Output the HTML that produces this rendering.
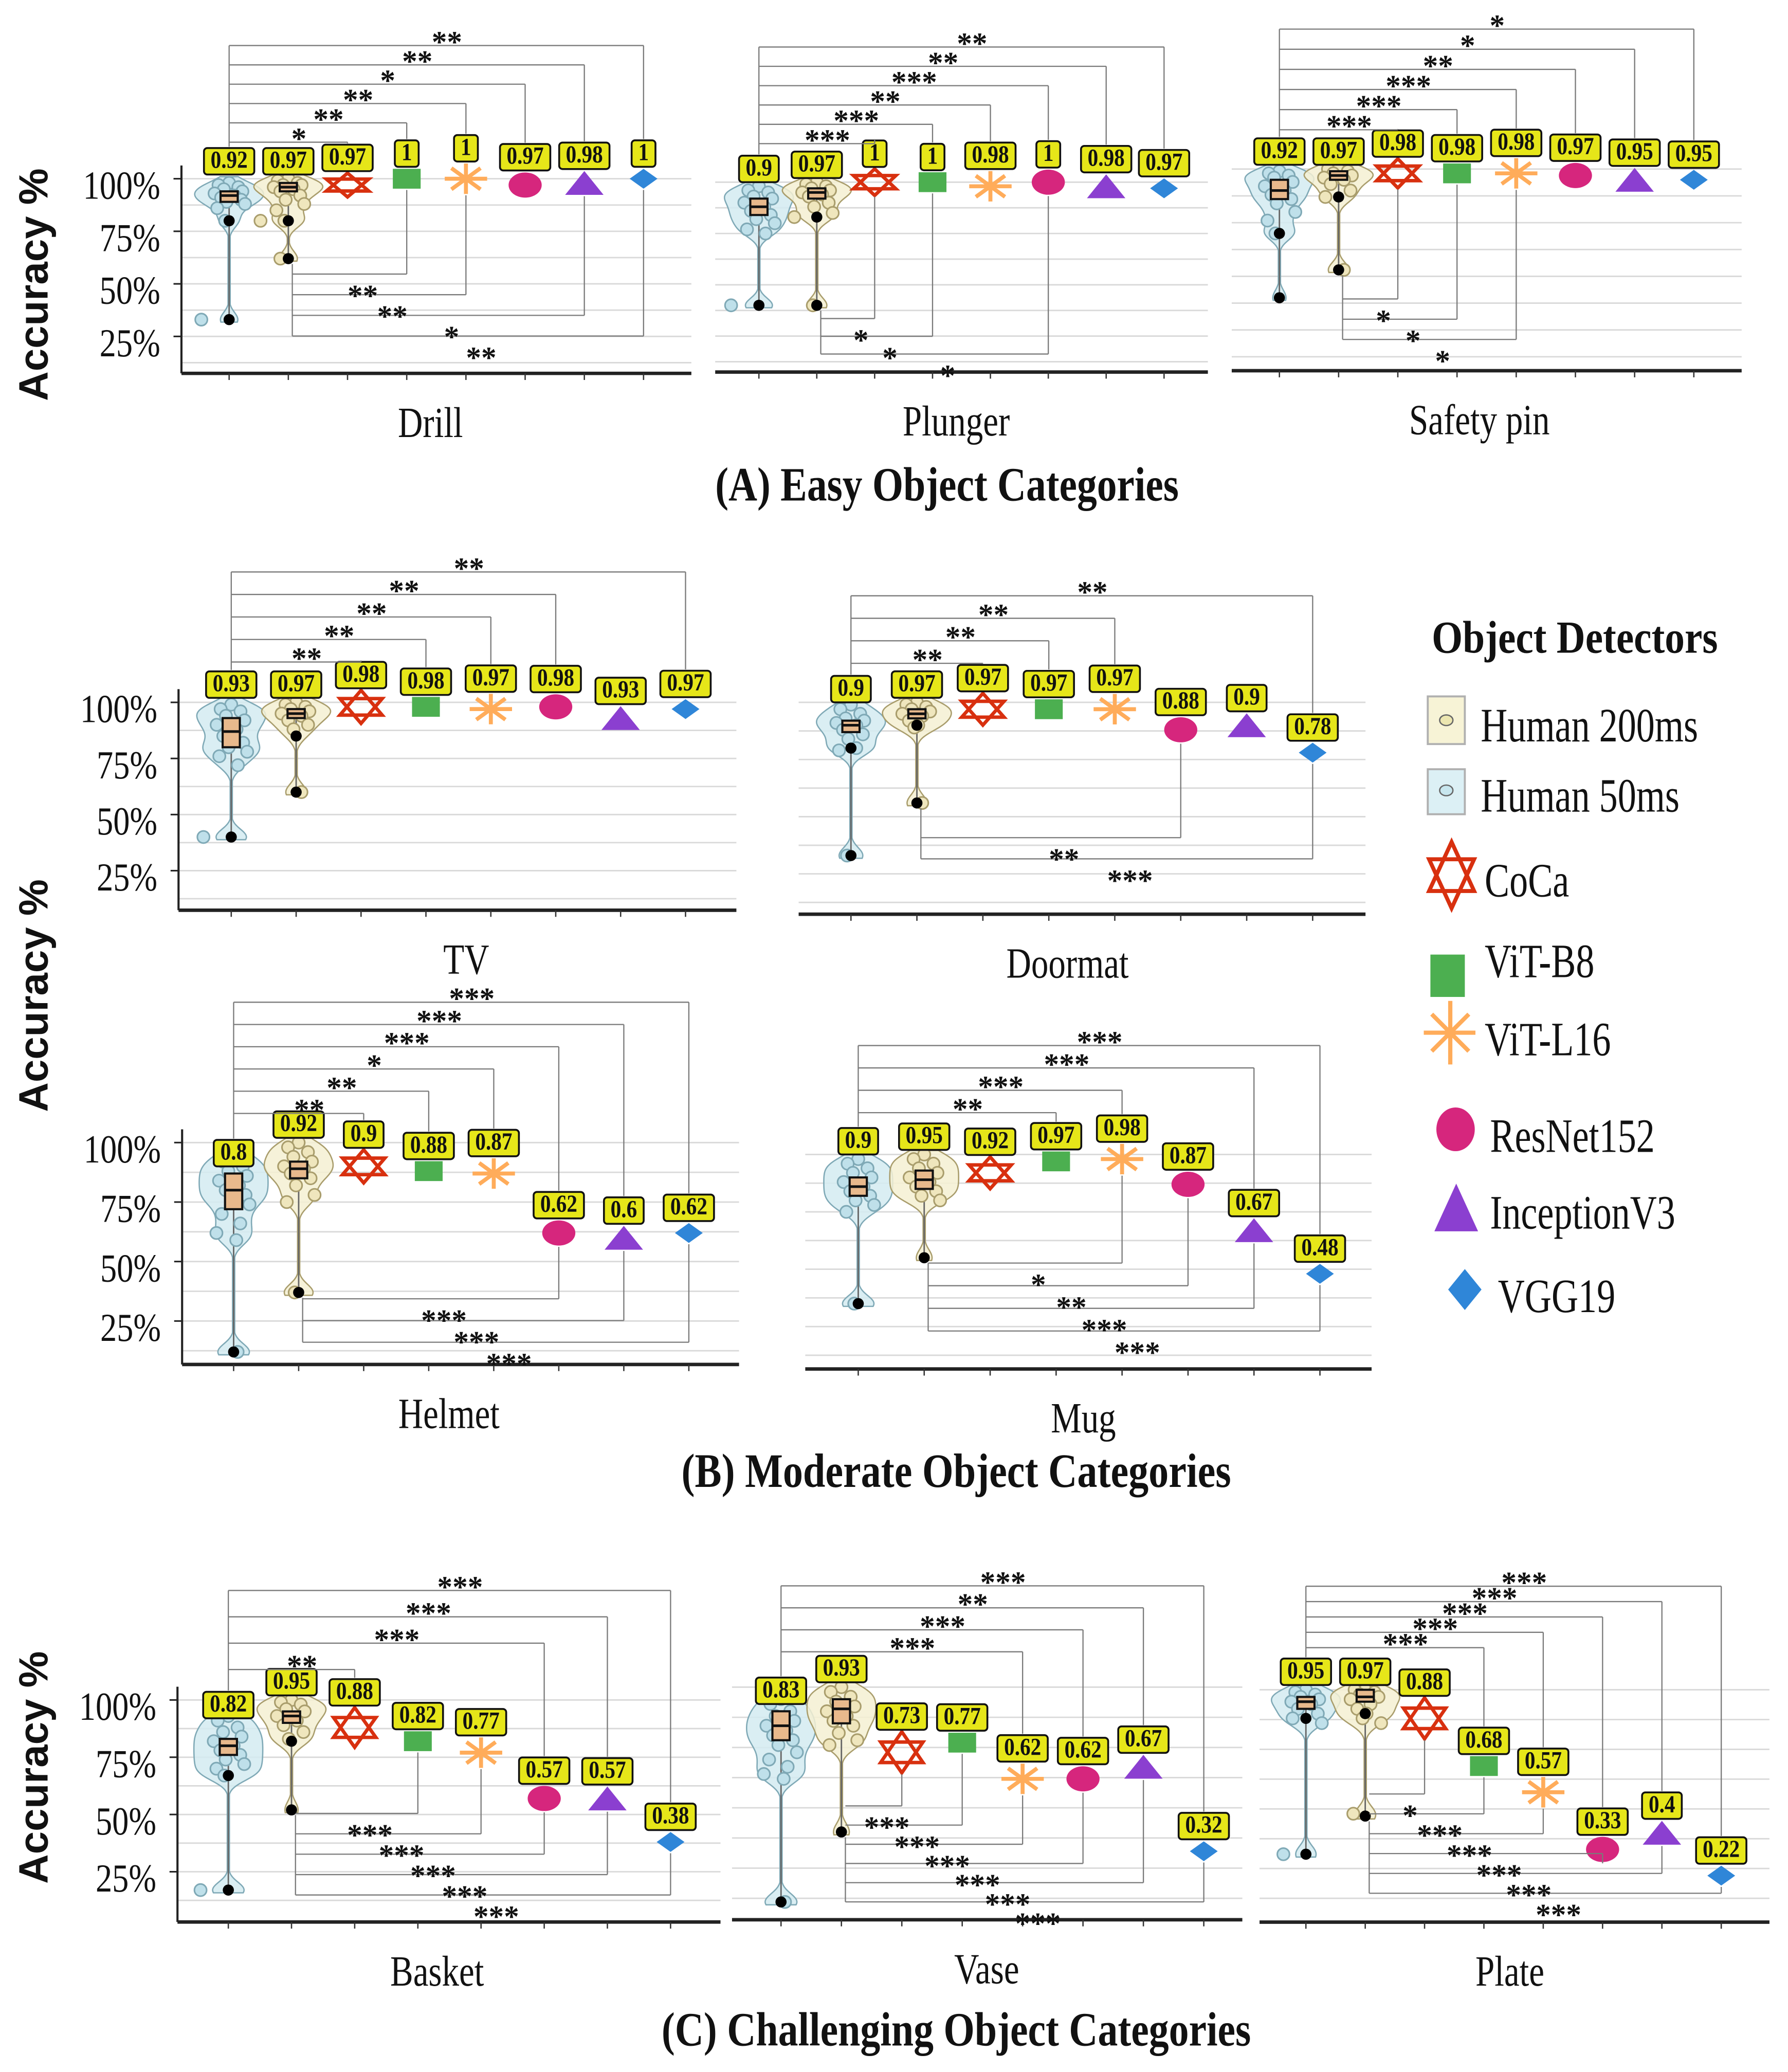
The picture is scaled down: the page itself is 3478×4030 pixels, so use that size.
<!DOCTYPE html>
<html><head><meta charset="utf-8"><title>Object detectors accuracy</title>
<style>html,body{margin:0;padding:0;background:#fff;}svg{display:block;}</style></head>
<body>
<svg id="chart" xmlns="http://www.w3.org/2000/svg" width="3478" height="4030" viewBox="0 0 1350 1565" preserveAspectRatio="none"></svg>
<script>
// ---------- data ----------
const categories = ['Human 50ms','Human 200ms','CoCa','ViT-B8','ViT-L16','ResNet152','InceptionV3','VGG19'];
const tickLabels = ['100%','75%','50%','25%'];
const tickValues = [1,0.75,0.5,0.25];
const legendLabels = ['Human 200ms','Human 50ms','CoCa','ViT-B8','ViT-L16','ResNet152','InceptionV3','VGG19'];

const drillMeans = [0.92,0.97,0.97,1,1,0.97,0.98,1];
const drillBox50 = [0.89,0.92,0.94];
const drillBox200 = [0.94,0.96,0.98];
const drillPts50 = [0.98,0.97,0.96,0.95,0.94,0.93,0.92,0.91,0.90,0.89,0.88,0.86,0.80,0.33];
const drillPts200 = [1,0.99,0.98,0.97,0.97,0.96,0.95,0.94,0.92,0.90,0.88,0.85,0.80,0.80,0.62];
const drillOut50 = [0.80,0.33];
const drillOut200 = [0.80,0.62];
const drillSigTop = [[2,'*'],[3,'**'],[4,'**'],[5,'*'],[6,'**'],[7,'**']];
const drillSigBot = [[3,'**'],[4,'**'],[6,'*'],[7,'**']];

const plungerMeans = [0.9,0.97,1,1,0.98,1,0.98,0.97];
const plungerBox50 = [0.84,0.88,0.92];
const plungerBox200 = [0.92,0.95,0.97];
const plungerPts50 = [0.98,0.96,0.95,0.93,0.92,0.90,0.88,0.86,0.84,0.82,0.80,0.77,0.75,0.40];
const plungerPts200 = [1,0.99,0.98,0.97,0.96,0.95,0.94,0.93,0.90,0.88,0.85,0.83,0.40];
const plungerOut50 = [0.40];
const plungerOut200 = [0.83,0.40];
const plungerSigTop = [[2,'***'],[3,'***'],[4,'**'],[5,'***'],[6,'**'],[7,'**']];
const plungerSigBot = [[2,'*'],[3,'*'],[5,'*']];

const safetyMeans = [0.92,0.97,0.98,0.98,0.98,0.97,0.95,0.95];
const safetyBox50 = [0.86,0.90,0.95];
const safetyBox200 = [0.95,0.97,0.99];
const safetyPts50 = [0.99,0.98,0.97,0.96,0.94,0.92,0.90,0.88,0.86,0.84,0.80,0.76,0.70];
const safetyPts200 = [1,1,0.99,0.98,0.97,0.96,0.95,0.93,0.90,0.87,0.53];
const safetyOut50 = [0.70,0.40];
const safetyOut200 = [0.87,0.53];
const safetySigTop = [[2,'***'],[3,'***'],[4,'***'],[5,'**'],[6,'*'],[7,'*']];
const safetySigBot = [[2,'*'],[3,'*'],[4,'*']];

const tvMeans = [0.93,0.97,0.98,0.98,0.97,0.98,0.93,0.97];
const tvBox50 = [0.80,0.87,0.93];
const tvBox200 = [0.93,0.95,0.97];
const tvPts50 = [0.99,0.97,0.96,0.94,0.92,0.90,0.88,0.85,0.82,0.80,0.78,0.76,0.72,0.40];
const tvPts200 = [1,0.99,0.98,0.97,0.96,0.95,0.94,0.92,0.90,0.88,0.60];
const tvOut50 = [0.40];
const tvOut200 = [0.85,0.60];
const tvSigTop = [[2,'**'],[3,'**'],[4,'**'],[5,'**'],[7,'**']];
const tvSigBot = [];

const doormatMeans = [0.9,0.97,0.97,0.97,0.97,0.88,0.9,0.78];
const doormatBox50 = [0.87,0.90,0.92];
const doormatBox200 = [0.93,0.95,0.97];
const doormatPts50 = [0.99,0.97,0.95,0.93,0.92,0.91,0.90,0.88,0.86,0.84,0.80,0.79,0.33];
const doormatPts200 = [1,0.99,0.98,0.97,0.96,0.95,0.94,0.92,0.90,0.89,0.56];
const doormatOut50 = [0.80,0.33];
const doormatOut200 = [0.90,0.56];
const doormatSigTop = [[2,'**'],[3,'**'],[4,'**'],[7,'**']];
const doormatSigBot = [[5,'**'],[7,'***']];

const helmetMeans = [0.8,0.92,0.9,0.88,0.87,0.62,0.6,0.62];
const helmetBox50 = [0.72,0.80,0.87];
const helmetBox200 = [0.85,0.89,0.92];
const helmetPts50 = [0.95,0.92,0.90,0.88,0.86,0.84,0.82,0.80,0.78,0.76,0.74,0.70,0.66,0.62,0.59,0.12];
const helmetPts200 = [1,0.98,0.96,0.94,0.92,0.90,0.89,0.87,0.85,0.82,0.78,0.75,0.37];
const helmetOut50 = [0.12];
const helmetOut200 = [0.37];
const helmetSigTop = [[2,'**'],[3,'**'],[4,'*'],[5,'***'],[6,'***'],[7,'***']];
const helmetSigBot = [[5,'***'],[6,'***'],[7,'***']];

const mugMeans = [0.9,0.95,0.92,0.97,0.98,0.87,0.67,0.48];
const mugBox50 = [0.82,0.86,0.90];
const mugBox200 = [0.85,0.89,0.93];
const mugPts50 = [0.98,0.96,0.94,0.92,0.90,0.88,0.86,0.84,0.82,0.80,0.78,0.75,0.35];
const mugPts200 = [1,0.98,0.96,0.94,0.92,0.90,0.88,0.86,0.84,0.82,0.80];
const mugOut50 = [0.35];
const mugOut200 = [0.55];
const mugSigTop = [[3,'**'],[4,'***'],[6,'***'],[7,'***']];
const mugSigBot = [[4,'*'],[5,'**'],[6,'***'],[7,'***']];

const basketMeans = [0.82,0.95,0.88,0.82,0.77,0.57,0.57,0.38];
const basketBox50 = [0.76,0.80,0.83];
const basketBox200 = [0.90,0.93,0.95];
const basketPts50 = [0.93,0.91,0.88,0.86,0.84,0.82,0.80,0.78,0.76,0.74,0.72,0.70,0.67,0.17];
const basketPts200 = [1,0.99,0.98,0.96,0.95,0.93,0.91,0.89,0.86,0.83];
const basketOut50 = [0.67,0.17];
const basketOut200 = [0.82,0.52];
const basketSigTop = [[2,'**'],[5,'***'],[6,'***'],[7,'***']];
const basketSigBot = [[3,'***'],[4,'***'],[5,'***'],[6,'***'],[7,'***']];

const vaseMeans = [0.83,0.93,0.73,0.77,0.62,0.62,0.67,0.32];
const vaseBox50 = [0.78,0.84,0.90];
const vaseBox200 = [0.85,0.91,0.95];
const vasePts50 = [0.95,0.93,0.90,0.88,0.86,0.84,0.82,0.80,0.78,0.76,0.73,0.70,0.67,0.64,0.62,0.11];
const vasePts200 = [1,0.98,0.96,0.94,0.92,0.90,0.88,0.86,0.84,0.81,0.78,0.76];
const vaseOut50 = [0.11];
const vaseOut200 = [0.40];
const vaseSigTop = [[4,'***'],[5,'***'],[6,'**'],[7,'***']];
const vaseSigBot = [[2,'***'],[3,'***'],[4,'***'],[5,'***'],[6,'***'],[7,'***']];

const plateMeans = [0.95,0.97,0.88,0.68,0.57,0.33,0.4,0.22];
const plateBox50 = [0.92,0.95,0.97];
const plateBox200 = [0.95,0.97,1.0];
const platePts50 = [1,0.99,0.98,0.97,0.96,0.95,0.94,0.92,0.90,0.88,0.86,0.31];
const platePts200 = [1,1,0.99,0.98,0.97,0.96,0.94,0.92,0.90,0.88,0.86,0.48];
const plateOut50 = [0.88,0.31];
const plateOut200 = [0.90,0.47];
const plateSigTop = [[3,'***'],[4,'***'],[5,'***'],[6,'***'],[7,'***']];
const plateSigBot = [[2,'*'],[3,'***'],[4,'***'],[5,'***'],[6,'***'],[7,'***']];

// ---------- layout (pixels, not data) ----------
const panels = [
 {key:'drill',title:'Drill',labelX:325,yAxis:true,x0:173,dx:44.7,y100:135,per100:158.8,L:137,R:522,B:282,tb:107.4,ts:14.6,bb:207,bs:15.6,starH:18,
  means:drillMeans,box50:drillBox50,box200:drillBox200,pts50:drillPts50,pts200:drillPts200,out50:drillOut50,out200:drillOut200,top:drillSigTop,bot:drillSigBot},
 {key:'plunger',title:'Plunger',labelX:722,yAxis:false,x0:573,dx:43.7,y100:137.6,per100:155,L:540,R:912,B:281,tb:108.5,ts:14.6,bb:240.6,bs:13.4,starH:20,
  means:plungerMeans,box50:plungerBox50,box200:plungerBox200,pts50:plungerPts50,pts200:plungerPts200,out50:plungerOut50,out200:plungerOut200,top:plungerSigTop,bot:plungerSigBot},
 {key:'safety-pin',title:'Safety pin',labelX:1117,yAxis:false,x0:966,dx:44.7,y100:127.7,per100:162,L:930,R:1315,B:280,tb:98,ts:15.2,bb:225.8,bs:15.3,starH:22,
  means:safetyMeans,box50:safetyBox50,box200:safetyBox200,pts50:safetyPts50,pts200:safetyPts200,out50:safetyOut50,out200:safetyOut200,top:safetySigTop,bot:safetySigBot},
 {key:'tv',title:'TV',labelX:352,yAxis:true,x0:174.6,dx:49,y100:530.5,per100:169.5,L:134.8,R:556,B:687.5,tb:500,ts:17,bb:0,bs:0,starH:25,
  means:tvMeans,box50:tvBox50,box200:tvBox200,pts50:tvPts50,pts200:tvPts200,out50:tvOut50,out200:tvOut200,top:tvSigTop,bot:tvSigBot},
 {key:'doormat',title:'Doormat',labelX:806,yAxis:false,x0:642.5,dx:49.8,y100:530.5,per100:172.7,L:603,R:1031,B:690.5,tb:501,ts:17,bb:632.7,bs:16,starH:24,
  means:doormatMeans,box50:doormatBox50,box200:doormatBox200,pts50:doormatPts50,pts200:doormatPts200,out50:doormatOut50,out200:doormatOut200,top:doormatSigTop,bot:doormatSigBot},
 {key:'helmet',title:'Helmet',labelX:339,yAxis:true,x0:176.4,dx:49.1,y100:863,per100:179.7,L:137.5,R:558,B:1030.6,tb:841,ts:16.8,bb:981,bs:16.4,starH:25,
  means:helmetMeans,box50:helmetBox50,box200:helmetBox200,pts50:helmetPts50,pts200:helmetPts200,out50:helmetOut50,out200:helmetOut200,top:helmetSigTop,bot:helmetSigBot},
 {key:'mug',title:'Mug',labelX:818,yAxis:false,x0:648,dx:49.8,y100:872,per100:173.3,L:608,R:1035.6,B:1034,tb:840.4,ts:16.9,bb:954,bs:17.1,starH:24,
  means:mugMeans,box50:mugBox50,box200:mugBox200,pts50:mugPts50,pts200:mugPts200,out50:mugOut50,out200:mugOut200,top:mugSigTop,bot:mugSigBot},
 {key:'basket',title:'Basket',labelX:330,yAxis:true,x0:172.4,dx:47.7,y100:1284,per100:173,L:134,R:544,B:1451.7,tb:1261,ts:19.9,bb:1369.7,bs:15.4,starH:30,
  means:basketMeans,box50:basketBox50,box200:basketBox200,pts50:basketPts50,pts200:basketPts200,out50:basketOut50,out200:basketOut200,top:basketSigTop,bot:basketSigBot},
 {key:'vase',title:'Vase',labelX:745,yAxis:false,x0:589.7,dx:45.6,y100:1274.3,per100:182.3,L:552.7,R:938,B:1450,tb:1247.6,ts:16.6,bb:1364,bs:14.5,starH:31,
  means:vaseMeans,box50:vaseBox50,box200:vaseBox200,pts50:vasePts50,pts200:vasePts200,out50:vaseOut50,out200:vaseOut200,top:vaseSigTop,bot:vaseSigBot},
 {key:'plate',title:'Plate',labelX:1140,yAxis:false,x0:986,dx:44.8,y100:1276.3,per100:180,L:951,R:1336,B:1451.8,tb:1244.5,ts:11.6,bb:1355,bs:15,starH:31,
  means:plateMeans,box50:plateBox50,box200:plateBox200,pts50:platePts50,pts200:platePts200,out50:plateOut50,out200:plateOut200,top:plateSigTop,bot:plateSigBot}
];
const jitter = [0,-8,7,-4,10,-11,4,-6,9,-2,12,-9,5,-13,2,11,-5];
const colors = {coca:'#d8300f',b8:'#4caf50',l16:'#ffac5a',res:'#d6267d',inc:'#8b3fd0',vgg:'#2f86d8'};
const SERIF = '"Liberation Serif", "Times New Roman", serif';
const SANS = '"Liberation Sans", Arial, sans-serif';

const NS = 'http://www.w3.org/2000/svg';
const svg = document.getElementById('chart');
function mk(tag, attrs, parent){
  const e = document.createElementNS(NS, tag);
  for (const k in attrs) e.setAttribute(k, attrs[k]);
  (parent || svg).appendChild(e);
  return e;
}
function txt(parent, str, x, y, o){
  const t = mk('text', {x:0, y:0, transform:'translate('+x+','+y+') scale(1,'+(o.sy||1)+')'+(o.rot?' rotate('+o.rot+')':''),
    'font-family':o.font||SERIF, 'font-size':o.size, 'font-weight':o.bold?'bold':'normal',
    'text-anchor':o.anchor||'start', fill:o.fill||'#111'}, parent);
  if (o.len){ t.setAttribute('textLength', o.len); t.setAttribute('lengthAdjust','spacingAndGlyphs'); }
  t.textContent = str;
  return t;
}

function markerHalf(m, p){ return [0,0,p.starH/2,7.5,11.5,9.5,9,7.5][m]; }

function drawMarker(parent, m, cx, cy, p){
  let e;
  if (m === 2){
    const w = 16, h = p.starH/2;
    e = mk('g', {}, parent);
    mk('polygon', {points:`${cx},${cy-h} ${cx+w},${cy+h/2} ${cx-w},${cy+h/2}`, fill:'none', stroke:colors.coca, 'stroke-width':2.6, 'stroke-linejoin':'miter'}, e);
    mk('polygon', {points:`${cx},${cy+h} ${cx+w},${cy-h/2} ${cx-w},${cy-h/2}`, fill:'none', stroke:colors.coca, 'stroke-width':2.6, 'stroke-linejoin':'miter'}, e);
  } else if (m === 3){
    e = mk('rect', {x:cx-10.5, y:cy-7.5, width:21, height:15, fill:colors.b8}, parent);
  } else if (m === 4){
    e = mk('g', {stroke:colors.l16, 'stroke-width':3, 'stroke-linecap':'butt'}, parent);
    mk('line', {x1:cx-16, y1:cy, x2:cx+16, y2:cy}, e);
    mk('line', {x1:cx, y1:cy-11.5, x2:cx, y2:cy+11.5}, e);
    mk('line', {x1:cx-11, y1:cy-8, x2:cx+11, y2:cy+8}, e);
    mk('line', {x1:cx-11, y1:cy+8, x2:cx+11, y2:cy-8}, e);
  } else if (m === 5){
    e = mk('ellipse', {cx:cx, cy:cy, rx:12.5, ry:9.5, fill:colors.res}, parent);
  } else if (m === 6){
    e = mk('polygon', {points:`${cx},${cy-9} ${cx+14.5},${cy+9} ${cx-14.5},${cy+9}`, fill:colors.inc}, parent);
  } else {
    e = mk('polygon', {points:`${cx},${cy-7.5} ${cx+10.5},${cy} ${cx},${cy+7.5} ${cx-10.5},${cy}`, fill:colors.vgg}, parent);
  }
  return e;
}

function drawLabel(parent, val, cx, bottom){
  const s = String(val);
  let w = 0;
  for (const ch of s) w += (ch === '.' ? 0.25 : 0.5) * 16;
  const g = mk('g', {}, parent);
  
  
  mk('rect', {x:cx-w/2-5, y:bottom-20, width:w+10, height:20, rx:2.5, fill:'#e6e619', stroke:'#111', 'stroke-width':1.4}, g);
  txt(g, s, cx, bottom-5, {size:16, bold:true, anchor:'middle', sy:1.15});
  return bottom - 20;
}

function drawPanel(p){
  const g = mk('g', {});
  
  
  const X = i => p.x0 + i * p.dx;
  const Y = v => p.y100 + (1 - v) * p.per100;

  for (let k = 0; k < 8; k++){
    const gl = mk('line', {x1:p.L, x2:p.R, y1:Y(1-k*0.125), y2:Y(1-k*0.125), stroke:'#d9d9d9', 'stroke-width':1.1}, g);
    
    
  }
  if (p.yAxis){
    const ya = mk('line', {x1:p.L, x2:p.L, y1:Y(1)-10, y2:p.B, stroke:'#222', 'stroke-width':1.6}, g);
    
    
    tickValues.forEach((v, i) => {
      mk('line', {x1:p.L-6, x2:p.L, y1:Y(v), y2:Y(v), stroke:'#222', 'stroke-width':1.2}, g);
      const tl = txt(g, tickLabels[i], p.L-16, Y(v)+15, {size:25, anchor:'end', sy:1.2});
      
      
    });
  }
  const xa = mk('line', {x1:p.L, x2:p.R, y1:p.B, y2:p.B, stroke:'#222', 'stroke-width':2.6}, g);
  
  
  for (let i = 0; i < categories.length; i++){
    mk('line', {x1:X(i), x2:X(i), y1:p.B, y2:p.B+5, stroke:'#333', 'stroke-width':1}, g);
  }
  const cl = txt(g, p.title, p.labelX, p.B+48, {size:26, anchor:'middle', sy:1.25});
  
  

  const tops = [];
  const groups = [
    {i:0, pts:p.pts50, box:p.box50, outs:p.out50, fill:'#d3ebf1', stroke:'#7fa9b6', dot:'#bfe0ea'},
    {i:1, pts:p.pts200, box:p.box200, outs:p.out200, fill:'#f5f0d2', stroke:'#a99d6c', dot:'#efe6bd'}
  ];
  groups.forEach(hg => {
    const hgEl = mk('g', {}, g);
    
    
    const cx = X(hg.i);
    const all = hg.pts.concat(hg.outs);
    const vmin = Math.min(...all) - 0.012, vmax = Math.min(1.02, Math.max(...all) + 0.03);
    const bw = 0.035, dens = [];
    for (let v = vmin; v <= vmax + 1e-9; v += 0.004){
      let d = 0;
      all.forEach(q => { d += Math.exp(-0.5 * Math.pow((v - q) / bw, 2)); });
      dens.push([v, d]);
    }
    const dmax = Math.max(...dens.map(d => d[1]));
    const W = 26;
    let path = '';
    dens.forEach((d, k) => { path += (k ? 'L' : 'M') + (cx + Math.max(0.8, d[1]/dmax*W)).toFixed(2) + ',' + Y(d[0]).toFixed(2); });
    for (let k = dens.length - 1; k >= 0; k--){ path += 'L' + (cx - Math.max(0.8, dens[k][1]/dmax*W)).toFixed(2) + ',' + Y(dens[k][0]).toFixed(2); }
    mk('path', {d:path + 'Z', fill:hg.fill, 'fill-opacity':0.85, stroke:hg.stroke, 'stroke-width':1}, hgEl);
    const lo = Math.min(...all);
    mk('line', {x1:cx, x2:cx, y1:Y(hg.box[0]), y2:Y(lo), stroke:'#666', 'stroke-width':1.1}, hgEl);
    hg.pts.forEach((v, k) => {
      const dot = mk('circle', {cx:cx + jitter[k % jitter.length] - (hg.outs.includes(v) ? 8 : 0), cy:Y(v), r:4.6, fill:hg.dot, stroke:hg.stroke, 'stroke-width':1.2}, hgEl);
      
      
    });
    const bx = mk('rect', {x:cx-6.5, y:Y(hg.box[2]), width:13, height:Math.max(3, Y(hg.box[0])-Y(hg.box[2])), fill:'#e8b98c', stroke:'#111', 'stroke-width':1.6}, hgEl);
    
    
    mk('line', {x1:cx-6.5, x2:cx+6.5, y1:Y(hg.box[1]), y2:Y(hg.box[1]), stroke:'#111', 'stroke-width':2}, hgEl);
    hg.outs.forEach(v => {
      const o = mk('circle', {cx:cx, cy:Y(v), r:4.2, fill:'#000'}, hgEl);
      
      
    });
    tops[hg.i] = drawLabel(hgEl, p.means[hg.i], cx, Y(Math.min(1.02, p.means[hg.i] + 0.1)));
  });
  for (let m = 2; m < 8; m++){
    const me = drawMarker(g, m, X(m), Y(p.means[m]), p);
    
    
    tops[m] = drawLabel(g, p.means[m], X(m), Y(p.means[m]) - markerHalf(m, p) - 1.5);
  }
  if (p.top.length){
    const bg = mk('g', {stroke:'#7a7a7a', 'stroke-width':0.9, fill:'none'}, g);
    
    
    const highest = p.tb - (p.top.length - 1) * p.ts;
    mk('line', {x1:X(0), x2:X(0), y1:highest, y2:tops[0]-1}, bg);
    p.top.forEach((s, k) => {
      const ly = p.tb - k * p.ts;
      mk('line', {x1:X(0), x2:X(s[0]), y1:ly, y2:ly}, bg);
      mk('line', {x1:X(s[0]), x2:X(s[0]), y1:ly, y2:tops[s[0]]-1}, bg);
      const st = txt(g, s[1], (X(0)+X(s[0]))/2 + 8, ly + 5, {size:23, bold:true, anchor:'middle'});
      
      
    });
  }
  if (p.bot.length){
    const bg = mk('g', {stroke:'#7a7a7a', 'stroke-width':0.9, fill:'none'}, g);
    
    
    const xl = X(1) + 3;
    const lowest = p.bb + (p.bot.length - 1) * p.bs;
    const startY = Y(Math.min(...p.out200, ...p.pts200)) + 4;
    mk('line', {x1:xl, x2:xl, y1:startY, y2:lowest}, bg);
    p.bot.forEach((s, k) => {
      const ly = p.bb + k * p.bs;
      const tx = X(s[0]);
      mk('line', {x1:xl, x2:tx, y1:ly, y2:ly}, bg);
      mk('line', {x1:tx, x2:tx, y1:Y(p.means[s[0]]) + markerHalf(s[0], p) + 1, y2:ly}, bg);
      const st = txt(g, s[1], (xl+tx)/2 + 10, ly + 24, {size:23, bold:true, anchor:'middle'});
      
      
    });
  }
}
panels.forEach(drawPanel);

[215, 752, 1335].forEach(cy => {
  const t = txt(svg, 'Accuracy %', 36, cy, {size:31, bold:true, anchor:'middle', font:SANS, rot:-90});
  
  
});
const secTitles = ['(A) Easy Object Categories','(B) Moderate Object Categories','(C) Challenging Object Categories'];
const secPos = [[715,378,350],[722,1123,415],[722,1545,445]];
secTitles.forEach((s, i) => {
  const t = txt(svg, s, secPos[i][0], secPos[i][1], {size:30, bold:true, anchor:'middle', sy:1.2, len:secPos[i][2]});
  
  
});

const lg = mk('g', {});


const lt = txt(lg, 'Object Detectors', 1081, 493, {size:30, bold:true, sy:1.15, len:216});


const legY = [560, 613, 677, 738, 797, 870, 928, 991];
const legX = [1118, 1118, 1121, 1121, 1121, 1125, 1125, 1131];
const e0 = mk('g', {}, lg);


mk('rect', {x:1078, y:526, width:28, height:36, fill:'#f7f3d6', stroke:'#b0b0b0', 'stroke-width':1.5}, e0);
mk('ellipse', {cx:1092, cy:544, rx:5, ry:4, fill:'#ece6b0', stroke:'#666', 'stroke-width':1}, e0);
const e1 = mk('g', {}, lg);


mk('rect', {x:1078, y:581, width:28, height:34, fill:'#dcf0f5', stroke:'#b0b0b0', 'stroke-width':1.5}, e1);
mk('ellipse', {cx:1092, cy:597, rx:5, ry:4, fill:'#c7e6ee', stroke:'#666', 'stroke-width':1}, e1);
const e2 = mk('g', {fill:'none', stroke:colors.coca, 'stroke-width':3}, lg);


mk('polygon', {points:'1096,636 1113,673 1079,673'}, e2);
mk('polygon', {points:'1096,686 1113,649 1079,649'}, e2);
const e3 = mk('rect', {x:1080, y:721, width:26, height:32, fill:colors.b8}, lg);


const e4 = mk('g', {stroke:colors.l16, 'stroke-width':3.2}, lg);


mk('line', {x1:1075, x2:1114, y1:780, y2:780}, e4);
mk('line', {x1:1095, x2:1095, y1:756, y2:804}, e4);
mk('line', {x1:1081, x2:1109, y1:766, y2:794}, e4);
mk('line', {x1:1081, x2:1109, y1:794, y2:766}, e4);
const e5 = mk('ellipse', {cx:1099, cy:853, rx:14.5, ry:16.5, fill:colors.res}, lg);


const e6 = mk('polygon', {points:'1083,930 1116,930 1099.5,894', fill:colors.inc}, lg);


const e7 = mk('polygon', {points:'1106,958.5 1118.6,974 1106,989.5 1093.4,974', fill:colors.vgg}, lg);


legendLabels.forEach((s, i) => {
  const t = txt(lg, s, legX[i], legY[i], {size:28, sy:1.3});
  
  
});
</script>
</body></html>
